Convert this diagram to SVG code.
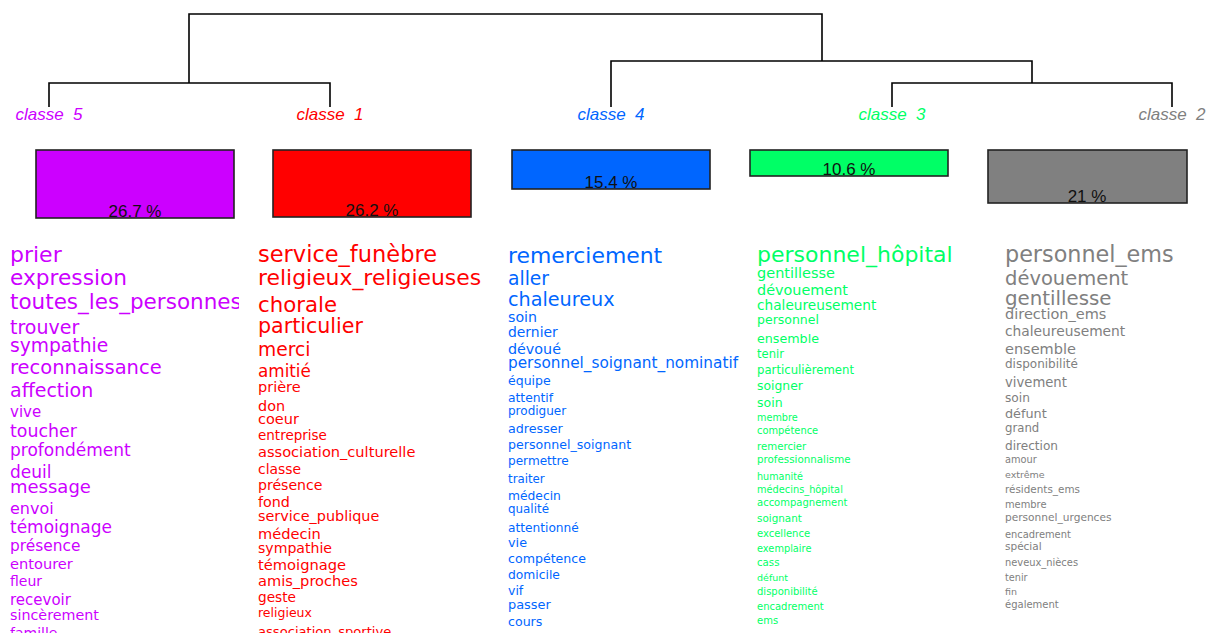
<svg xmlns="http://www.w3.org/2000/svg" width="1207" height="633" viewBox="0 0 1207 633">
<defs>
<style>
.bg{fill:#ffffff}
.dl{stroke:#000;stroke-width:1.6;fill:none}
.lab{font-family:"Liberation Sans",Arial,sans-serif;font-style:italic;font-size:17px;text-anchor:middle}
.box{stroke:#222;stroke-width:1.6}
.pct{font-family:"Liberation Sans",Arial,sans-serif;font-size:17px;text-anchor:middle;fill:#111}
.w{font-family:"DejaVu Sans",Verdana,sans-serif}
.c5{fill:#CC00FF}.c1{fill:#FF0000}.c4{fill:#0066FF}.c3{fill:#00FF66}.c2{fill:#808080}
</style>
<clipPath id="clip5"><rect x="0" y="230" width="239" height="403"/></clipPath>
</defs>
<rect class="bg" x="0" y="0" width="1207" height="633"/>
<g id="connectors">
<path class="dl" d="M189,83 V14 H822 V61"/>
<path class="dl" d="M49,107 V83 H330 V107"/>
<path class="dl" d="M611,107 V61 H1032 V83"/>
<path class="dl" d="M892,107 V83 H1172 V107"/>
</g>
<g id="classe5">
<text class="lab c5" x="49" y="120" xml:space="preserve">classe  5</text>
<rect class="box c5" x="36" y="150" width="198" height="68"/>
<text class="pct" x="135" y="217">26.7 %</text>
<g class="w c5" clip-path="url(#clip5)">
<text x="10" y="262" font-size="22">prier</text>
<text x="10" y="285" font-size="21.7">expression</text>
<text x="10" y="309" font-size="21.5">toutes_les_personnes</text>
<text x="10" y="334" font-size="19">trouver</text>
<text x="10" y="352" font-size="18.7">sympathie</text>
<text x="10" y="374" font-size="19.5">reconnaissance</text>
<text x="10" y="397" font-size="19">affection</text>
<text x="10" y="417" font-size="15">vive</text>
<text x="10" y="437" font-size="17.4">toucher</text>
<text x="10" y="456" font-size="17">profondément</text>
<text x="10" y="478" font-size="17">deuil</text>
<text x="10" y="493" font-size="18">message</text>
<text x="10" y="514" font-size="16">envoi</text>
<text x="10" y="533" font-size="17">témoignage</text>
<text x="10" y="551" font-size="15.4">présence</text>
<text x="10" y="569" font-size="14.6">entourer</text>
<text x="10" y="586" font-size="14">fleur</text>
<text x="10" y="605" font-size="15">recevoir</text>
<text x="10" y="620" font-size="14.3">sincèrement</text>
<text x="10" y="638" font-size="14">famille</text>
</g>
</g>
<g id="classe1">
<text class="lab c1" x="330" y="120" xml:space="preserve">classe  1</text>
<rect class="box c1" x="273" y="150" width="198" height="67"/>
<text class="pct" x="372" y="216">26.2 %</text>
<g class="w c1">
<text x="258" y="262" font-size="22.5">service_funèbre</text>
<text x="258" y="285" font-size="21.9">religieux_religieuses</text>
<text x="258" y="312" font-size="21.3">chorale</text>
<text x="258" y="333" font-size="20.6">particulier</text>
<text x="258" y="356" font-size="18.7">merci</text>
<text x="258" y="377" font-size="16.8">amitié</text>
<text x="258" y="392" font-size="14.5">prière</text>
<text x="258" y="411" font-size="14.4">don</text>
<text x="258" y="424" font-size="14.5">coeur</text>
<text x="258" y="440" font-size="13.5">entreprise</text>
<text x="258" y="457" font-size="14.6">association_culturelle</text>
<text x="258" y="474" font-size="13.9">classe</text>
<text x="258" y="490" font-size="14.1">présence</text>
<text x="258" y="507" font-size="14.3">fond</text>
<text x="258" y="521" font-size="14.4">service_publique</text>
<text x="258" y="539" font-size="14.6">médecin</text>
<text x="258" y="553" font-size="14.1">sympathie</text>
<text x="258" y="570" font-size="14.7">témoignage</text>
<text x="258" y="586" font-size="14.6">amis_proches</text>
<text x="258" y="602" font-size="13.7">geste</text>
<text x="258" y="617" font-size="12.5">religieux</text>
<text x="258" y="636" font-size="13.1">association_sportive</text>
</g>
</g>
<g id="classe4">
<text class="lab c4" x="611" y="120" xml:space="preserve">classe  4</text>
<rect class="box c4" x="512" y="150" width="198" height="39"/>
<text class="pct" x="611" y="188">15.4 %</text>
<g class="w c4">
<text x="508" y="263" font-size="21.9">remerciement</text>
<text x="508" y="285" font-size="18.7">aller</text>
<text x="508" y="306" font-size="19.2">chaleureux</text>
<text x="508" y="322" font-size="14.2">soin</text>
<text x="508" y="337" font-size="13.9">dernier</text>
<text x="508" y="354" font-size="14.3">dévoué</text>
<text x="508" y="368" font-size="15.3">personnel_soignant_nominatif</text>
<text x="508" y="385" font-size="12.5">équipe</text>
<text x="508" y="402" font-size="12.3">attentif</text>
<text x="508" y="415" font-size="12">prodiguer</text>
<text x="508" y="433" font-size="12.7">adresser</text>
<text x="508" y="449" font-size="12.6">personnel_soignant</text>
<text x="508" y="465" font-size="12.1">permettre</text>
<text x="508" y="483" font-size="11.8">traiter</text>
<text x="508" y="500" font-size="12.3">médecin</text>
<text x="508" y="513" font-size="11.9">qualité</text>
<text x="508" y="532" font-size="12.2">attentionné</text>
<text x="508" y="547" font-size="12.8">vie</text>
<text x="508" y="563" font-size="12.6">compétence</text>
<text x="508" y="579" font-size="12.3">domicile</text>
<text x="508" y="595" font-size="12.5">vif</text>
<text x="508" y="609" font-size="12.9">passer</text>
<text x="508" y="626" font-size="12.6">cours</text>
</g>
</g>
<g id="classe3">
<text class="lab c3" x="892" y="120" xml:space="preserve">classe  3</text>
<rect class="box c3" x="750" y="150" width="198" height="26"/>
<text class="pct" x="849" y="175">10.6 %</text>
<g class="w c3">
<text x="757" y="262" font-size="22">personnel_hôpital</text>
<text x="757" y="278" font-size="14.5">gentillesse</text>
<text x="757" y="295" font-size="14.4">dévouement</text>
<text x="757" y="310" font-size="13.7">chaleureusement</text>
<text x="757" y="324" font-size="12.5">personnel</text>
<text x="757" y="343" font-size="12.7">ensemble</text>
<text x="757" y="358" font-size="11.6">tenir</text>
<text x="757" y="374" font-size="11.7">particulièrement</text>
<text x="757" y="390" font-size="12.4">soigner</text>
<text x="757" y="407" font-size="12.5">soin</text>
<text x="757" y="421" font-size="9.7">membre</text>
<text x="757" y="434" font-size="9.9">compétence</text>
<text x="757" y="450" font-size="10.2">remercier</text>
<text x="757" y="463" font-size="10.3">professionnalisme</text>
<text x="757" y="480" font-size="9.6">humanité</text>
<text x="757" y="493" font-size="9.8">médecins_hôpital</text>
<text x="757" y="506" font-size="10">accompagnement</text>
<text x="757" y="522" font-size="10.4">soignant</text>
<text x="757" y="537" font-size="10">excellence</text>
<text x="757" y="552" font-size="9.8">exemplaire</text>
<text x="757" y="566" font-size="10.2">cass</text>
<text x="757" y="581" font-size="9.5">défunt</text>
<text x="757" y="595" font-size="10">disponibilité</text>
<text x="757" y="610" font-size="10">encadrement</text>
<text x="757" y="624" font-size="10">ems</text>
</g>
</g>
<g id="classe2">
<text class="lab c2" x="1172" y="120" xml:space="preserve">classe  2</text>
<rect class="box c2" x="988" y="150" width="199" height="53"/>
<text class="pct" x="1087" y="202">21 %</text>
<g class="w c2">
<text x="1005" y="262" font-size="22.3">personnel_ems</text>
<text x="1005" y="285" font-size="19.5">dévouement</text>
<text x="1005" y="305" font-size="19.8">gentillesse</text>
<text x="1005" y="319" font-size="14.5">direction_ems</text>
<text x="1005" y="336" font-size="13.8">chaleureusement</text>
<text x="1005" y="354" font-size="14.5">ensemble</text>
<text x="1005" y="368" font-size="12">disponibilité</text>
<text x="1005" y="387" font-size="13.2">vivement</text>
<text x="1005" y="402" font-size="12.2">soin</text>
<text x="1005" y="418" font-size="12.8">défunt</text>
<text x="1005" y="432" font-size="11.7">grand</text>
<text x="1005" y="450" font-size="12.1">direction</text>
<text x="1005" y="463" font-size="9.8">amour</text>
<text x="1005" y="478" font-size="9.5">extrême</text>
<text x="1005" y="493" font-size="10.4">résidents_ems</text>
<text x="1005" y="508" font-size="9.9">membre</text>
<text x="1005" y="521" font-size="10.6">personnel_urgences</text>
<text x="1005" y="538" font-size="9.9">encadrement</text>
<text x="1005" y="550" font-size="10.5">spécial</text>
<text x="1005" y="566" font-size="9.9">neveux_nièces</text>
<text x="1005" y="581" font-size="9.7">tenir</text>
<text x="1005" y="595" font-size="9.5">fin</text>
<text x="1005" y="608" font-size="10">également</text>
</g>
</g>
</svg>
